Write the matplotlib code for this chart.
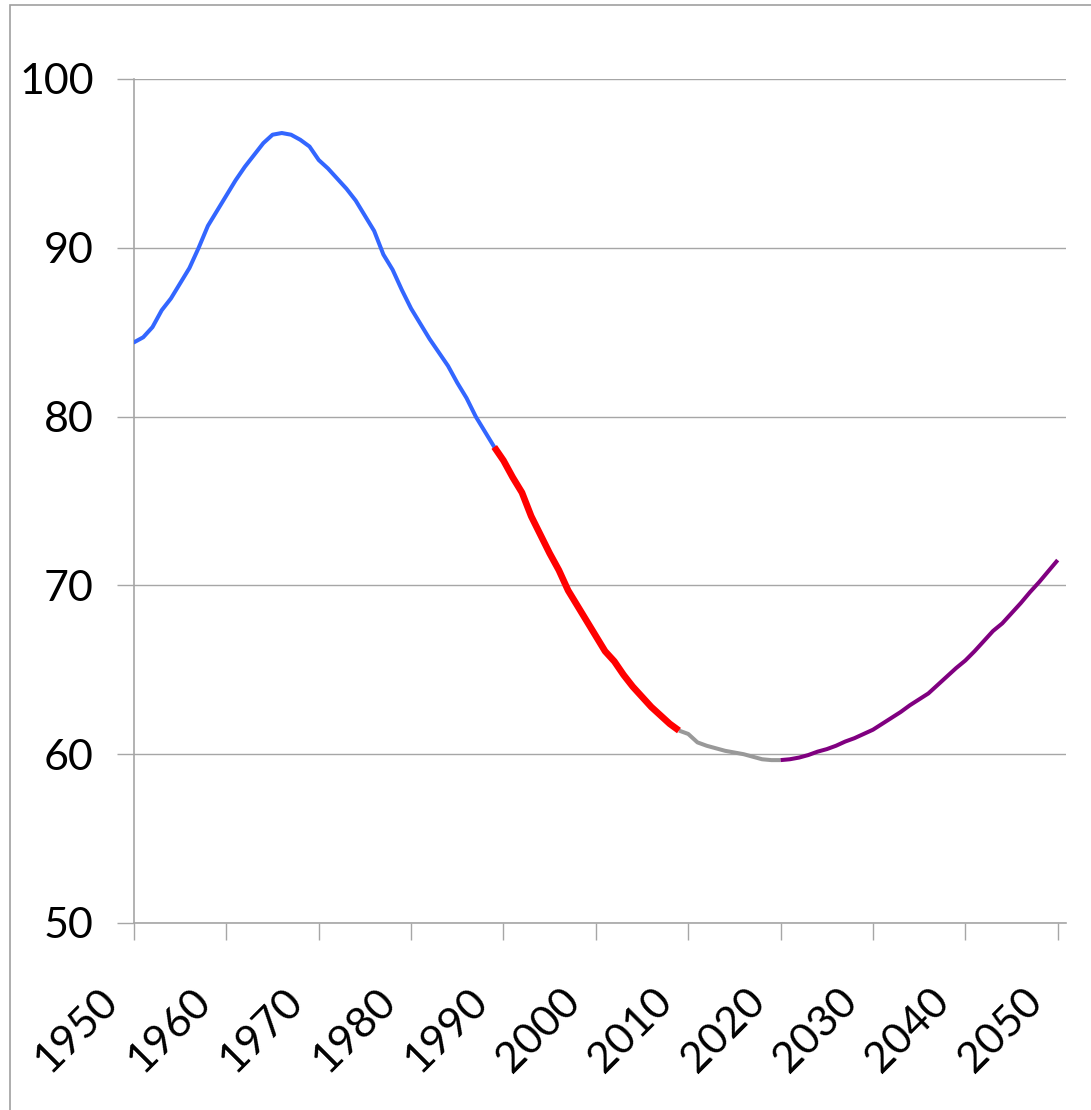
import matplotlib.pyplot as plt
import matplotlib.transforms as mtransforms
from matplotlib.patches import Rectangle

# values, one per year
years_blue = list(range(1950, 1990))
vals_blue = [84.4, 84.7, 85.3, 86.3, 87.0, 87.9, 88.8, 90.0, 91.3, 92.2,
             93.1, 94.0, 94.8, 95.5, 96.2, 96.7, 96.8, 96.7, 96.4, 96.0,
             95.2, 94.7, 94.1, 93.5, 92.8, 91.9, 91.0, 89.6, 88.7, 87.5,
             86.4, 85.5, 84.6, 83.8, 83.0, 82.0, 81.1, 80.0, 79.1, 78.2]

years_red = list(range(1989, 2010))
vals_red = [78.2, 77.4, 76.4, 75.5, 74.1, 73.0, 71.9, 70.9, 69.7, 68.8,
            67.9, 67.0, 66.1, 65.5, 64.7, 64.0, 63.4, 62.8, 62.3, 61.8,
            61.4]

years_gray = list(range(2009, 2021))
vals_gray = [61.4, 61.2, 60.7, 60.5, 60.35, 60.2, 60.1, 60.0, 59.85, 59.7,
             59.65, 59.65]

years_purple = list(range(2020, 2051))
vals_purple = [59.65, 59.7, 59.8, 59.95, 60.15, 60.3, 60.5, 60.75, 60.95, 61.2,
               61.45, 61.8, 62.15, 62.5, 62.9, 63.25, 63.6, 64.1, 64.6, 65.1,
               65.55, 66.1, 66.7, 67.3, 67.75, 68.35, 68.95, 69.6, 70.2, 70.85,
               71.5]

xticks = list(range(1950, 2051, 10))
yticks = [50, 60, 70, 80, 90, 100]

plt.rcParams['font.family'] = ['Lato', 'DejaVu Sans']

fig = plt.figure(figsize=(10.91, 11.10), dpi=100)
ax = fig.add_axes([134 / 1091, 1 - 923 / 1110, (1066 - 134) / 1091, (923 - 79) / 1110])

ax.plot(years_blue, vals_blue, color='#3366ff', lw=2.9, solid_capstyle='round', zorder=3)
ax.plot(years_red, vals_red, color='#ff0000', lw=4.8, solid_capstyle='butt', zorder=4)
ax.plot(years_gray, vals_gray, color='#999999', lw=2.9, solid_capstyle='butt', zorder=3)
ax.plot(years_purple, vals_purple, color='#800080', lw=2.9, solid_capstyle='butt', zorder=3)

ax.set_xlim(1950, 2050.9)
ax.set_ylim(50, 100)
ax.set_xticks(xticks)
ax.set_yticks(yticks)
ax.set_yticklabels([str(v) for v in yticks])
ax.set_xticklabels([str(v) for v in xticks], rotation=45, ha='right', va='center',
                   rotation_mode='anchor')

grid_c = '#a6a6a6'
ax.grid(axis='y', color=grid_c, lw=1.0)
ax.set_axisbelow(True)
for side in ['top', 'right']:
    ax.spines[side].set_visible(False)
for side in ['left', 'bottom']:
    ax.spines[side].set_color(grid_c)
    ax.spines[side].set_linewidth(1.2)

ax.tick_params(axis='y', length=12, width=1.0, color=grid_c, pad=17, labelsize=31)
ax.tick_params(axis='x', length=12, width=1.0, color=grid_c, pad=40, labelsize=31)

# shift x labels a bit left like the original
offset = mtransforms.ScaledTranslation(-22 / 100, 0, fig.dpi_scale_trans)
for lab in ax.get_xticklabels():
    lab.set_transform(lab.get_transform() + offset)

# chart area border (runs off the right and bottom edges)
fig.add_artist(Rectangle((10 / 1091, -0.1), 1.2, 1 - 4.7 / 1110 + 0.1,
                         transform=fig.transFigure, fill=False,
                         edgecolor='#a0a0a0', lw=1.2))

fig.savefig('out.png', dpi=100)
